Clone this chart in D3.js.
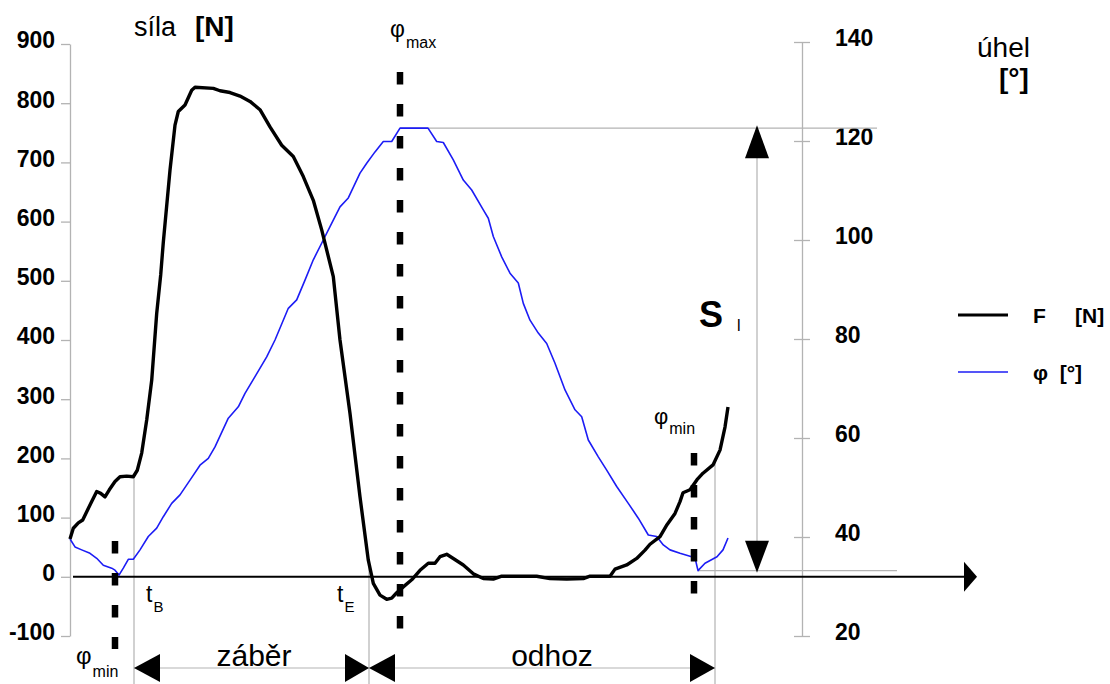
<!DOCTYPE html>
<html>
<head>
<meta charset="utf-8">
<script src="https://cdn.jsdelivr.net/npm/d3@7"></script>
<style>
  body { margin: 0; background: #fff; }
  svg { display: block; }
  text { font-family: "Liberation Sans", Arial, sans-serif; fill: #000; }
</style>
</head>
<body>
<svg id="chart" width="1110" height="684"></svg>
<script>
// Handle force F [N] and oar angle φ [°] over one rowing stroke cycle.
// Time runs in arbitrary sample units along the horizontal axis.

const forceTime = [0, 0.33, 0.83, 1.27, 1.67, 2.17, 2.67, 3.07, 3.5, 3.93, 4.5, 5.0, 5.67, 6.33, 6.73,
  7.17, 7.67, 8.17, 8.67, 9.07, 9.33, 10.0, 10.5, 10.83, 11.5, 12.17, 12.5, 14.33, 15.0, 16.0, 17.0,
  18.0, 19.0, 20.0, 21.17, 22.33, 23.33, 24.33, 25.17, 26.33, 27.0, 28.0, 29.0, 29.83, 30.33, 31.0,
  31.67, 32.17, 32.67, 33.33, 34.17, 35.0, 35.83, 36.5, 37.0, 37.67, 38.33, 39.33, 40.33, 41.33,
  42.33, 43.17, 44.67, 46.67, 48.0, 49.67, 51.33, 52.0, 54.0, 54.5, 55.67, 56.67, 57.5, 58.0, 59.0,
  59.7, 60.5, 61.0, 61.3, 62.0, 62.7, 63.3, 64.3, 65.0, 65.5, 65.8];
const forceValues = [64, 82, 91, 96, 110, 127, 144, 141, 135, 147, 161, 169, 170, 169, 180,
  209, 265, 332, 445, 510, 565, 687, 763, 786, 797, 822, 827, 825, 821, 818, 812,
  803, 789, 760, 729, 710, 676, 636, 586, 507, 400, 276, 135, 28, -11, -31,
  -38, -36, -27, -17, -5, 11, 23, 23, 34, 38, 31, 20, 5, -3,
  -4, 1, 1, 1, -3, -4, -3, 1, 1, 13, 20, 31, 45, 55, 68,
  88, 107, 127, 142, 147, 164, 175, 189, 214, 253, 287];

const angleTime = [0, 0.5, 1.17, 2.0, 2.67, 3.33, 4.17, 4.5, 4.9, 5.33, 5.83, 6.33, 7.0, 7.83, 8.67,
  9.33, 10.17, 11.0, 12.0, 13.0, 13.83, 14.5, 15.83, 16.83, 17.5, 18.5, 19.67, 20.5, 21.83, 22.67,
  23.5, 24.33, 25.33, 26.0, 27.0, 27.83, 29.0, 29.67, 30.5, 31.33, 32.17, 33.0, 35.8, 36.67, 37.33,
  38.33, 39.33, 40.17, 41.33, 41.83, 42.33, 43.17, 44.0, 44.83, 45.33, 46.0, 46.83, 47.67, 48.5,
  49.5, 50.5, 51.17, 51.83, 52.83, 53.67, 54.67, 55.83, 56.83, 57.83, 58.67, 59.33, 60.0, 61.0,
  62.5, 62.8, 63.5, 64.7, 65.3, 65.8];
const angleValues = [39.6, 38.0, 37.4, 36.7, 35.7, 34.3, 33.7, 33.3, 32.3, 33.7, 35.5, 35.5, 37.4, 40.1, 41.8,
  44.1, 46.8, 48.5, 51.5, 54.5, 55.9, 58.2, 64.0, 66.3, 69.0, 72.4, 76.4, 79.8, 86.2, 87.9,
  91.9, 96.0, 100.0, 102.7, 106.7, 108.5, 113.5, 115.5, 117.8, 119.9, 119.9, 122.6, 122.6, 119.9, 119.7,
  116.2, 112.1, 110.1, 106.1, 104.4, 100.7, 96.6, 93.3, 91.3, 87.2, 83.8, 81.2, 79.1, 75.1,
  69.7, 65.7, 64.3, 59.6, 56.2, 53.5, 50.2, 46.8, 43.8, 40.4, 40.1, 38.4, 37.4, 36.7,
  35.8, 33.2, 34.7, 36.0, 37.4, 39.8];

const forceTicks = [-100, 0, 100, 200, 300, 400, 500, 600, 700, 800, 900];
const angleTicks = [20, 40, 60, 80, 100, 120, 140];

// stroke events (time units)
const tPhiMinStart = 4.5;
const tCatch = 6.4;       // t_B
const tFinish = 29.9;     // t_E
const tPhiMax = 33.0;
const tPhiMinEnd = 62.4;
const tCycleEnd = 64.5;
const tStrokeArrow = 68.7;
const tMaxLineEnd = 80.7;
const tMinLineEnd = 82.7;

const phiMax = d3.max(angleValues);
const phiMinEnd = d3.min(angleValues.filter((v, i) => angleTime[i] > 50));

const svg = d3.select("#chart");

const x = d3.scaleLinear().domain([0, 90.5]).range([70, 975]);
const yF = d3.scaleLinear().domain([-100, 900]).range([636, 44]);
const yA = d3.scaleLinear().domain([20, 140]).range([636, 42]);

const GRAY = "#b3b3b3";
const font = (g, size, weight) => g.attr("font-size", size).attr("font-weight", weight || "normal");

// interpolated force at a given time, to anchor event lines to the curve
const forceAt = t => {
  const i = d3.bisectLeft(forceTime, t);
  if (i <= 0) return forceValues[0];
  const t0 = forceTime[i - 1], t1 = forceTime[i];
  return forceValues[i - 1] + (forceValues[i] - forceValues[i - 1]) * (t - t0) / (t1 - t0);
};

// ---- left axis (force) ----
const axL = svg.append("g").attr("transform", `translate(${x(0)},0)`)
  .call(d3.axisLeft(yF).tickValues(forceTicks).tickFormat(d => String(d))
    .tickSize(9).tickSizeOuter(0).tickPadding(6));
axL.select(".domain").attr("stroke", GRAY).attr("stroke-width", 1.3);
axL.selectAll(".tick line").attr("stroke", GRAY).attr("stroke-width", 1.3);
axL.selectAll(".tick text").attr("font-size", 23).attr("font-weight", "bold")
  .attr("font-family", "Liberation Sans, Arial, sans-serif").attr("fill", "#000").attr("dy", "0.17em");

// ---- right axis (angle) ----
const axR = svg.append("g").attr("transform", "translate(802,0)")
  .call(d3.axisRight(yA).tickValues(angleTicks).tickFormat(d => String(d))
    .tickSize(8).tickSizeOuter(0).tickPadding(25));
axR.select(".domain").attr("stroke", GRAY).attr("stroke-width", 1.3);
axR.selectAll(".tick line").attr("x1", -8).attr("stroke", GRAY).attr("stroke-width", 1.3);
axR.selectAll(".tick text").attr("font-size", 23).attr("font-weight", "bold")
  .attr("font-family", "Liberation Sans, Arial, sans-serif").attr("fill", "#000").attr("dy", "0.17em");

// ---- thin reference lines ----
const ref = svg.append("g").attr("stroke", GRAY).attr("stroke-width", 1.2);
ref.append("line").attr("x1", x(tPhiMax)).attr("x2", x(tMaxLineEnd))
  .attr("y1", yA(phiMax)).attr("y2", yA(phiMax));
ref.append("line").attr("x1", x(tPhiMinEnd + 0.4)).attr("x2", x(tMinLineEnd))
  .attr("y1", yA(phiMinEnd)).attr("y2", yA(phiMinEnd));
[tCatch, tFinish, tCycleEnd].forEach(t => {
  ref.append("line").attr("x1", x(t)).attr("x2", x(t)).attr("y1", yF(forceAt(t))).attr("y2", 684);
});
// stroke length S_l
ref.append("line").attr("x1", x(tStrokeArrow)).attr("x2", x(tStrokeArrow))
  .attr("y1", yA(phiMax)).attr("y2", yA(phiMinEnd));
// phase arrows at the bottom
const phaseY = 668;
ref.append("line").attr("x1", x(tCatch)).attr("x2", x(tCycleEnd)).attr("y1", phaseY).attr("y2", phaseY);

// ---- time axis ----
svg.append("line").attr("x1", x(0) + 3).attr("x2", x(90.5) - 8).attr("y1", yF(0)).attr("y2", yF(0))
  .attr("stroke", "#000").attr("stroke-width", 2);
svg.append("path")
  .attr("d", `M${x(90.5) + 2},${yF(0)} L${x(90.5) - 11},${yF(0) - 15} L${x(90.5) - 11},${yF(0) + 15} Z`)
  .attr("fill", "#000");

// ---- arrowheads ----
function arrowHead(tipX, tipY, dir, len, half) {
  let d;
  if (dir === "left") d = `M${tipX},${tipY} L${tipX + len},${tipY - half} L${tipX + len},${tipY + half} Z`;
  if (dir === "right") d = `M${tipX},${tipY} L${tipX - len},${tipY - half} L${tipX - len},${tipY + half} Z`;
  if (dir === "up") d = `M${tipX},${tipY} L${tipX - half},${tipY + len} L${tipX + half},${tipY + len} Z`;
  if (dir === "down") d = `M${tipX},${tipY} L${tipX - half},${tipY - len} L${tipX + half},${tipY - len} Z`;
  svg.append("path").attr("d", d).attr("fill", "#000");
}
arrowHead(x(tCatch), phaseY, "left", 26, 14);
arrowHead(x(tFinish), phaseY, "right", 24, 14);
arrowHead(x(tFinish), phaseY, "left", 26, 14);
arrowHead(x(tCycleEnd), phaseY, "right", 25, 14);
arrowHead(x(tStrokeArrow), yA(phiMax) - 3, "up", 33, 12);
arrowHead(x(tStrokeArrow), yA(phiMinEnd) + 2, "down", 32, 12);

// ---- curves ----
const angleLine = d3.line().x(d => x(d[0])).y(d => yA(d[1]));
const forceLine = d3.line().x(d => x(d[0])).y(d => yF(d[1]));

svg.append("path").datum(d3.zip(angleTime, angleValues))
  .attr("d", angleLine).attr("fill", "none")
  .attr("stroke", "#1c1cf5").attr("stroke-width", 1.6).attr("stroke-linejoin", "round");
svg.append("path").datum(d3.zip(forceTime, forceValues))
  .attr("d", forceLine).attr("fill", "none")
  .attr("stroke", "#000").attr("stroke-width", 3.4).attr("stroke-linejoin", "round");

// ---- dashed markers at the angle extremes ----
const dashed = (t, y1, y2) => svg.append("line")
  .attr("x1", x(t)).attr("x2", x(t)).attr("y1", y1).attr("y2", y2)
  .attr("stroke", "#000").attr("stroke-width", 6.5).attr("stroke-dasharray", "12.5 19.5");
dashed(tPhiMinStart, 541, 649);
dashed(tPhiMax, 72, 632);
dashed(tPhiMinEnd, 453, 594);

// ---- texts ----
function subLabel(px, py, main, sub, mainSize, subSize, subDx, subDy, weight) {
  const t = svg.append("text").attr("x", px).attr("y", py)
    .attr("font-size", mainSize).attr("font-weight", weight || "normal");
  t.append("tspan").text(main);
  t.append("tspan").attr("dx", subDx).attr("dy", subDy).attr("font-size", subSize)
    .attr("font-weight", "normal").text(sub);
}

font(svg.append("text").attr("x", 134).attr("y", 36).text("síla"), 27);
font(svg.append("text").attr("x", 195).attr("y", 36).text("[N]"), 28, "bold");
font(svg.append("text").attr("x", 977).attr("y", 57).text("úhel"), 28);
font(svg.append("text").attr("x", 999).attr("y", 88).text("[°]"), 28, "bold");

subLabel(390, 37, "φ", "max", 23, 16, 1, 11);
subLabel(654, 424, "φ", "min", 22, 16, 1, 10);
subLabel(76, 664, "φ", "min", 24, 16, 1, 13);

subLabel(146, 602, "t", "B", 23, 15, 1, 10);
subLabel(337, 602, "t", "E", 23, 15, 1, 10);

font(svg.append("text").attr("x", 254).attr("y", 666).attr("text-anchor", "middle").text("záběr"), 30);
font(svg.append("text").attr("x", 552).attr("y", 666).attr("text-anchor", "middle").text("odhoz"), 30);

subLabel(699, 327, "S", "l", 36, 16, 14, 4, "bold");

// ---- legend ----
const legendLines = [
  { y: 315, color: "#000", width: 3.2, label: "F     [N]" },
  { y: 372, color: "#1c1cf5", width: 1.6, label: "φ  [°]" }
];
legendLines.forEach(l => {
  svg.append("line").attr("x1", 958).attr("x2", 1008).attr("y1", l.y).attr("y2", l.y)
    .attr("stroke", l.color).attr("stroke-width", l.width);
  svg.append("text").attr("x", 1033).attr("y", l.y + 8).attr("font-size", 21)
    .attr("font-weight", "bold").style("white-space", "pre").text(l.label);
});
</script>
</body>
</html>
